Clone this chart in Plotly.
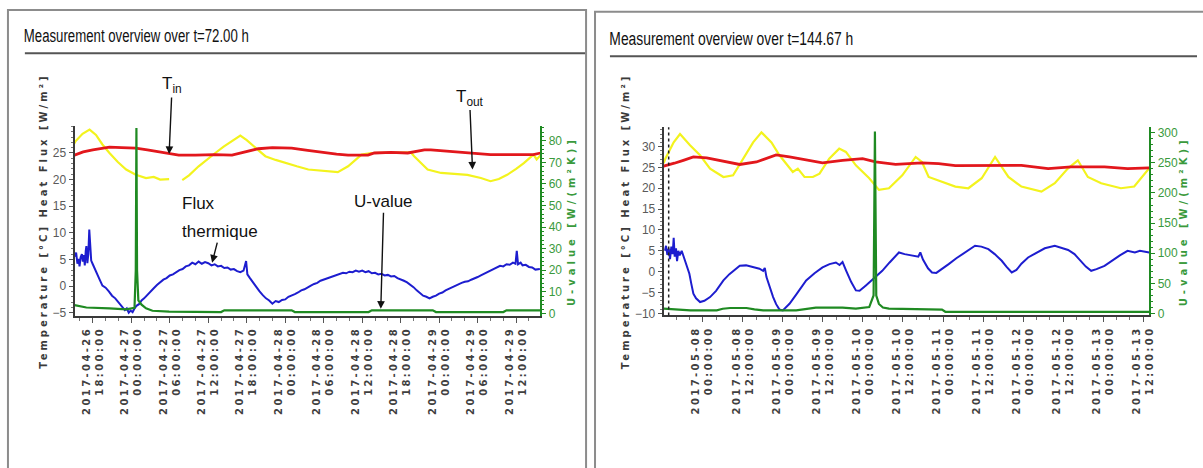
import plotly.graph_objects as go
import pandas as pd

# ---------------- LEFT PANEL DATA (hours since 2017-04-26 18:00) ----------------
L_BASE = "2017-04-26 18:00"
L_RANGE = ["2017-04-26 15:10", "2017-04-29 15:46"]
L_TITLE = "Measurement overview over t=72.00 h"

# (hour, value) pairs
l_tin = [(-2.85, 24.6), (-2.6, 24.7), (-1.5, 25.2), (0.0, 25.6), (1.5, 25.9), (2.6, 26.1),
         (4.5, 26.0), (6.7, 25.9), (8.5, 25.6), (10.5, 25.2), (11.9, 25.0), (13.4, 24.6),
         (16.0, 24.6), (19.0, 24.7), (21.7, 24.6), (23.0, 25.0), (24.5, 25.4), (25.8, 25.8),
         (28.0, 26.0), (31.0, 25.9), (33.5, 25.5), (36.2, 25.0), (38.0, 24.8), (39.8, 24.6),
         (42.9, 24.6), (43.9, 25.0), (46.5, 25.1), (49.1, 25.0), (50.5, 25.3), (51.7, 25.6),
         (52.7, 25.6), (55.5, 25.3), (58.4, 25.0), (62.0, 24.7), (65.0, 24.7), (68.7, 24.7),
         (69.8, 25.0)]

l_tout = [(-2.85, 26.8), (-2.7, 27.2), (-1.6, 28.6), (-0.5, 29.4), (0.5, 28.4), (1.5, 26.6),
          (2.6, 25.0), (3.9, 23.3), (5.2, 21.9), (6.7, 20.9), (8.3, 20.3), (9.5, 20.5),
          (10.5, 20.0), (11.9, 20.1), (12.6, None), (13.95, 19.9), (15.0, 20.8), (16.5, 22.5),
          (17.8, 23.8), (19.1, 25.0), (20.4, 26.2), (21.7, 27.2), (23.0, 28.25), (24.0, 27.4),
          (24.8, 26.6), (26.9, 24.4), (28.5, 23.7), (30.0, 23.1), (31.8, 22.5), (33.6, 21.9),
          (36.2, 21.6), (38.2, 21.4), (39.8, 22.5), (40.8, 23.6), (41.9, 24.7), (43.4, 25.0),
          (46.5, 25.1), (49.6, 25.1), (50.1, 24.4), (51.2, 23.0), (52.2, 21.9), (54.3, 21.25),
          (56.5, 21.1), (58.4, 20.9), (60.5, 20.3), (62.0, 19.7), (63.3, 20.1), (64.6, 20.9),
          (66.0, 22.0), (67.2, 23.1), (68.7, 24.7), (69.2, 23.8), (69.8, 24.6)]

l_flux = [(-2.8, 5.5), (-2.6, 6.3), (-2.4, 4.2), (-2.2, 5.1), (-2.07, 3.7), (-1.9, 5.4),
          (-1.7, 6.0), (-1.55, 4.6), (-1.4, 5.8), (-1.25, 3.9), (-1.1, 6.6), (-1.0, 7.5),
          (-0.85, 4.3), (-0.7, 6.0), (-0.55, 10.6), (-0.4, 6.5), (-0.25, 4.8), (0.0, 4.1),
          (0.5, 2.6), (1.0, 1.4), (1.5, 0.1), (2.0, -0.3), (2.5, -1.0), (3.0, -1.8),
          (3.5, -2.3), (4.0, -3.0), (4.5, -3.8), (5.0, -4.5), (5.3, -4.2), (5.6, -5.0),
          (5.9, -4.6), (6.2, -4.9), (6.5, -4.2), (6.8, -3.7), (7.2, -3.4), (7.6, -2.7),
          (8.0, -2.3), (8.5, -1.6), (9.0, -1.1), (9.5, -0.4), (10.0, 0.2), (10.5, 0.7),
          (11.0, 1.2), (11.5, 1.5), (12.0, 2.0), (12.5, 2.2), (13.0, 2.6), (13.5, 3.0),
          (14.0, 3.2), (14.5, 3.7), (15.0, 3.9), (15.5, 4.4), (16.0, 4.1), (16.5, 4.6),
          (17.0, 4.2), (17.5, 4.5), (18.0, 4.3), (18.5, 3.9), (19.0, 4.1), (19.5, 3.7),
          (20.0, 3.8), (20.5, 3.4), (21.0, 3.5), (21.5, 3.1), (22.0, 3.2), (22.5, 2.8),
          (23.0, 2.6), (23.5, 2.9), (23.9, 4.7), (24.1, 2.2), (24.5, 1.5), (25.0, 0.6),
          (25.5, -0.3), (26.0, -1.0), (26.5, -1.7), (27.0, -2.3), (27.5, -2.7), (28.0, -3.3),
          (28.5, -2.8), (29.0, -3.0), (29.5, -2.6), (30.0, -2.5), (30.5, -2.0), (31.0, -1.8),
          (31.5, -1.5), (32.0, -1.2), (32.5, -0.8), (33.0, -0.6), (33.5, -0.2), (34.0, 0.1),
          (34.5, 0.4), (35.0, 0.6), (35.5, 1.0), (36.0, 1.2), (36.5, 1.4), (37.0, 1.7),
          (37.5, 1.9), (38.0, 2.1), (38.5, 2.2), (39.0, 2.5), (39.5, 2.4), (40.0, 2.7),
          (40.5, 2.6), (41.0, 2.9), (41.5, 2.7), (42.0, 2.9), (42.5, 2.6), (43.0, 2.8),
          (43.5, 2.4), (44.0, 2.5), (44.5, 2.2), (45.0, 2.3), (45.5, 2.0), (46.0, 2.1),
          (46.5, 1.8), (47.0, 1.9), (47.5, 1.5), (48.0, 1.3), (48.5, 1.0), (49.0, 0.7),
          (49.5, 0.3), (50.0, -0.2), (50.5, -0.8), (51.0, -1.3), (51.5, -1.8), (52.0, -2.0),
          (52.5, -2.3), (53.0, -2.0), (53.5, -1.8), (54.0, -1.4), (54.5, -1.2), (55.0, -0.8),
          (55.5, -0.5), (56.0, -0.2), (56.5, 0.1), (57.0, 0.3), (57.5, 0.6), (58.0, 0.8),
          (58.5, 0.9), (59.0, 1.2), (59.5, 1.4), (60.0, 1.7), (60.5, 2.0), (61.0, 2.3),
          (61.5, 2.6), (62.0, 2.8), (62.5, 3.2), (63.0, 3.5), (63.5, 3.8), (64.0, 3.7),
          (64.5, 4.1), (65.0, 4.0), (65.5, 4.4), (65.9, 4.2), (66.1, 6.6), (66.3, 4.1),
          (66.7, 4.4), (67.0, 3.9), (67.5, 4.0), (68.0, 3.6), (68.5, 3.5), (69.0, 3.1),
          (69.7, 3.2)]

l_uval = [(-2.85, 3.8), (-1.0, 2.7), (2.6, 2.3), (5.2, 1.8), (6.5, 2.5), (6.7, 20.0),
          (6.8, 86.0), (6.9, 20.0), (7.1, 6.0), (7.6, 4.0), (8.3, 2.3), (9.3, 1.2),
          (11.9, 0.8), (20.0, 0.6), (20.5, 1.4), (31.0, 1.4), (31.5, 0.6), (43.0, 0.6),
          (43.5, 1.4), (53.0, 1.4), (53.5, 0.6), (64.0, 0.6), (64.5, 1.4), (69.8, 1.4)]

l_tickvals = ["2017-04-26 18:00", "2017-04-27 00:00", "2017-04-27 06:00", "2017-04-27 12:00",
              "2017-04-27 18:00", "2017-04-28 00:00", "2017-04-28 06:00", "2017-04-28 12:00",
              "2017-04-28 18:00", "2017-04-29 00:00", "2017-04-29 06:00", "2017-04-29 12:00"]
l_ticktext = ["2017-04-26<br>18:00:00", "2017-04-27<br>00:00:00", "2017-04-27<br>06:00:00",
              "2017-04-27<br>12:00:00", "2017-04-27<br>18:00:00", "2017-04-28<br>00:00:00",
              "2017-04-28<br>06:00:00", "2017-04-28<br>12:00:00", "2017-04-28<br>18:00:00",
              "2017-04-29<br>00:00:00", "2017-04-29<br>06:00:00", "2017-04-29<br>12:00:00"]
l_ytick = [-5, 0, 5, 10, 15, 20, 25]
l_u_tick = [0, 10, 20, 30, 40, 50, 60, 70, 80]

# ---------------- RIGHT PANEL DATA (hours since 2017-05-08 00:00) ----------------
R_BASE = "2017-05-08 00:00"
R_RANGE = ["2017-05-07 12:18", "2017-05-13 13:48"]
R_TITLE = "Measurement overview over t=144.67 h"

r_tin = [(-11.7, 25.3), (-10.7, 25.5), (-8.5, 26.0), (-5.8, 26.7), (-2.8, 27.5), (1.2, 27.3),
         (6.2, 26.5), (11.1, 25.7), (16.1, 26.3), (19.0, 27.2), (22.0, 28.0), (26.0, 27.5),
         (31.0, 26.7), (35.9, 26.1), (41.9, 26.7), (47.9, 27.1), (51.8, 26.3), (57.8, 25.7),
         (65.7, 26.1), (70.7, 25.9), (75.7, 25.4), (85.6, 25.5), (95.5, 25.5), (103.5, 24.7),
         (110.4, 25.1), (120.4, 25.1), (127.3, 24.7), (133.8, 24.9)]

r_tout = [(-11.7, 26.0), (-11.2, 27.1), (-8.7, 31.0), (-6.8, 33.0), (-3.8, 30.3), (-0.8, 27.9),
          (2.2, 24.7), (6.2, 22.7), (9.1, 23.1), (12.1, 27.1), (15.1, 31.0), (17.6, 33.4),
          (20.6, 31.0), (23.0, 27.9), (27.0, 23.9), (28.5, 24.7), (30.5, 22.7), (33.0, 22.7),
          (35.0, 23.5), (37.9, 27.1), (40.9, 29.5), (42.9, 28.7), (45.9, 25.5), (49.9, 22.4),
          (52.8, 19.6), (55.8, 20.0), (59.8, 23.1), (63.8, 27.5), (65.7, 26.3), (67.7, 22.7),
          (71.7, 21.6), (75.7, 20.4), (79.6, 20.0), (83.6, 22.4), (87.6, 27.5), (91.6, 22.7),
          (95.5, 20.4), (101.5, 19.2), (105.5, 21.2), (109.4, 24.7), (112.4, 26.7), (115.4, 22.7),
          (119.4, 21.2), (125.3, 20.0), (129.3, 20.4), (133.3, 24.3), (133.8, 24.8)]

r_flux = [(-11.3, 5.0), (-11.0, 6.2), (-10.6, 4.0), (-10.2, 5.5), (-9.8, 3.0), (-9.4, 6.0),
          (-9.0, 4.2), (-8.7, 8.1), (-8.4, 3.6), (-8.0, 5.6), (-7.7, 2.5), (-7.3, 5.0),
          (-6.9, 3.9), (-6.3, 5.0), (-5.8, 3.8), (-5.3, 2.6), (-4.8, 1.8), (-4.0, -0.5),
          (-3.4, -3.0), (-2.8, -5.3), (-2.0, -6.4), (-0.8, -7.3), (0.5, -7.0), (2.2, -6.1),
          (4.0, -4.6), (6.2, -2.1), (8.0, -0.6), (10.0, 0.8), (11.1, 1.4), (13.0, 1.5),
          (15.1, 1.0), (17.0, 0.7), (18.1, 0.2), (18.6, 0.9), (19.1, -1.3), (20.0, -3.5),
          (21.1, -6.1), (22.0, -7.8), (23.0, -9.1), (24.0, -9.3), (25.0, -8.5), (26.0, -7.7),
          (28.0, -5.5), (31.0, -2.1), (33.5, -0.4), (35.9, 1.0), (38.0, 1.8), (39.9, 2.2),
          (41.0, 1.6), (41.9, 2.3), (43.0, 0.2), (44.5, -2.5), (45.9, -4.5), (47.0, -4.6),
          (48.9, -3.3), (51.0, -1.7), (53.8, 0.2), (56.0, 2.2), (58.0, 4.1), (58.8, 4.6),
          (60.5, 4.2), (62.0, 4.0), (63.8, 3.8), (64.6, 3.6), (65.2, 4.6), (66.0, 2.9),
          (67.5, 0.8), (68.7, -0.2), (70.0, -0.3), (71.5, 0.5), (73.7, 1.8), (76.0, 3.2),
          (78.5, 4.6), (81.6, 6.2), (83.5, 6.0), (85.6, 5.4), (87.5, 4.2), (89.6, 2.6),
          (91.0, 1.2), (92.6, -0.2), (94.0, 0.4), (95.5, 1.9), (97.5, 3.4), (100.0, 4.6),
          (102.5, 5.6), (105.5, 6.2), (108.0, 5.6), (109.5, 5.2), (111.4, 4.2), (113.0, 2.8),
          (114.8, 1.2), (116.4, 0.2), (118.0, 0.6), (120.4, 1.4), (122.5, 2.6), (125.0, 3.9),
          (127.3, 5.0), (129.5, 4.6), (131.0, 5.0), (133.3, 4.6), (133.8, 4.6)]

r_uval = [(-11.7, 8.2), (-3.7, 5.5), (4.2, 5.5), (6.0, 8.0), (8.2, 9.3), (13.1, 9.3),
          (15.5, 7.0), (18.1, 5.5), (28.0, 5.5), (31.0, 8.0), (33.9, 9.8), (41.9, 9.8),
          (45.9, 8.2), (49.9, 10.9), (51.2, 30.0), (51.6, 302.0), (52.0, 30.0), (52.8, 16.0),
          (54.0, 10.0), (55.8, 8.2), (71.7, 6.5), (72.7, 3.0), (133.8, 3.0)]

r_tickvals = ["2017-05-08 00:00", "2017-05-08 12:00", "2017-05-09 00:00", "2017-05-09 12:00",
              "2017-05-10 00:00", "2017-05-10 12:00", "2017-05-11 00:00", "2017-05-11 12:00",
              "2017-05-12 00:00", "2017-05-12 12:00", "2017-05-13 00:00", "2017-05-13 12:00"]
r_ticktext = ["2017-05-08<br>00:00:00", "2017-05-08<br>12:00:00", "2017-05-09<br>00:00:00",
              "2017-05-09<br>12:00:00", "2017-05-10<br>00:00:00", "2017-05-10<br>12:00:00",
              "2017-05-11<br>00:00:00", "2017-05-11<br>12:00:00", "2017-05-12<br>00:00:00",
              "2017-05-12<br>12:00:00", "2017-05-13<br>00:00:00", "2017-05-13<br>12:00:00"]
r_ytick = [-10, -5, 0, 5, 10, 15, 20, 25, 30]
r_u_tick = [0, 50, 100, 150, 200, 250, 300]

Y_TITLE = "Temperature [°C] Heat Flux [W/m²]"
U_TITLE = "U-value [W/(m²K)]"

# ---------------- styling ----------------
RED = "#e2171c"
YELLOW = "#f3f31e"
BLUE = "#1d1dcf"
GREEN = "#1f8a22"
GREEN_TXT = "#3a9a3c"
AX = "#3a3a3a"
W, H = 1203, 468


def series(base, pairs):
    b = pd.Timestamp(base)
    xs = [b + pd.Timedelta(hours=h) for h, _ in pairs]
    ys = [v for _, v in pairs]
    return xs, ys


def px(x):
    return x / W


def py(y):
    return 1 - y / H


fig = go.Figure()

for base, tin, tout, flux, uval, xa, ya, ua in [
    (L_BASE, l_tin, l_tout, l_flux, l_uval, "x", "y", "y2"),
    (R_BASE, r_tin, r_tout, r_flux, r_uval, "x2", "y3", "y4"),
]:
    for pairs, col, wdt, name, yax in [
        (tout, YELLOW, 2.2, "T out", ya),
        (tin, RED, 2.8, "T in", ya),
        (flux, BLUE, 2.0, "Heat flux", ya),
        (uval, GREEN, 2.2, "U-value", ua),
    ]:
        xs, ys = series(base, pairs)
        fig.add_trace(go.Scatter(x=xs, y=ys, mode="lines", name=name,
                                 line=dict(color=col, width=wdt),
                                 xaxis=xa, yaxis=yax, showlegend=False,
                                 connectgaps=False))

xtickfont = dict(family="DejaVu Sans", size=10, color="#404040", weight="bold")
ytickfont = dict(family="Liberation Sans", size=12, color="#5a5a5a")
utickfont = dict(family="Liberation Sans", size=12, color=GREEN_TXT)
ytitlefont = dict(family="DejaVu Sans", size=10, color="#3a3a3a", weight="bold")
utitlefont = dict(family="DejaVu Sans", size=10, color=GREEN_TXT, weight="bold")


def xaxis_cfg(domain, anchor, rng, tv, tt, base, minor_h):
    return dict(domain=domain, anchor=anchor, type="date", range=rng,
                tickmode="array", tickvals=tv, ticktext=tt, tickangle=-90,
                tickfont=xtickfont, ticks="outside", ticklen=5, tickwidth=1,
                tickcolor="#555", showline=True, linecolor=AX, linewidth=2,
                showgrid=False, zeroline=False,
                minor=dict(ticks="outside", ticklen=3, tickcolor="#777",
                           dtick=minor_h * 3600000, tick0=base, showgrid=False))


def yaxis_cfg(domain, anchor, rng, tv, minor):
    return dict(domain=domain, anchor=anchor, range=rng, tickmode="array",
                tickvals=tv, tickfont=ytickfont, ticks="outside", ticklen=4,
                tickcolor="#555", showline=True, linecolor=AX, linewidth=2,
                showgrid=False, zeroline=False,
                title=dict(text=Y_TITLE, font=ytitlefont, standoff=3),
                minor=dict(ticks="outside", ticklen=2, tickcolor="#777",
                           dtick=minor, showgrid=False))


def uaxis_cfg(overlay, anchor, rng, tv, minor, standoff):
    return dict(overlaying=overlay, anchor=anchor, side="right", range=rng,
                tickmode="array", tickvals=tv, tickfont=utickfont, ticks="outside",
                ticklen=4, tickcolor=GREEN, showline=True, linecolor=GREEN,
                linewidth=2, showgrid=False, zeroline=False,
                title=dict(text=U_TITLE, font=utitlefont, standoff=standoff),
                minor=dict(ticks="outside", ticklen=2, tickcolor=GREEN,
                           dtick=minor, showgrid=False))


fig.update_layout(
    width=W, height=H, margin=dict(l=0, r=0, t=0, b=0),
    paper_bgcolor="white", plot_bgcolor="white", showlegend=False,
    xaxis=xaxis_cfg([px(75), px(543)], "y", L_RANGE, l_tickvals, l_ticktext, L_BASE, 2),
    yaxis=yaxis_cfg([py(319), py(127)], "x", [-5.6, 30.0], l_ytick, 1),
    yaxis2=uaxis_cfg("y", "x", [-1.2, 86.7], l_u_tick, 2, 7),
    xaxis2=xaxis_cfg([px(667), px(1155)], "y3", R_RANGE, r_tickvals, r_ticktext, R_BASE, 4),
    yaxis3=yaxis_cfg([py(318.5), py(128)], "x2", [-10.5, 34.6], r_ytick, 1),
    yaxis4=uaxis_cfg("y3", "x2", [-3.0, 308.7], r_u_tick, 10, 1),
)

# frames and title separators
shapes = [
    dict(type="rect", xref="paper", yref="paper", x0=px(8), x1=px(589), y0=py(475), y1=py(9),
         line=dict(color="#8c8c8c", width=2), fillcolor="rgba(0,0,0,0)", layer="below"),
    dict(type="rect", xref="paper", yref="paper", x0=px(598), x1=px(1215), y0=py(475), y1=py(11),
         line=dict(color="#8c8c8c", width=2), fillcolor="rgba(0,0,0,0)", layer="below"),
    dict(type="line", xref="paper", yref="paper", x0=px(25), x1=px(588), y0=py(53), y1=py(53),
         line=dict(color="#555", width=2)),
    dict(type="line", xref="paper", yref="paper", x0=px(613), x1=px(1203), y0=py(56), y1=py(56),
         line=dict(color="#555", width=2)),
    dict(type="line", xref="x2", yref="y3 domain",
         x0=pd.Timestamp(R_BASE) + pd.Timedelta(hours=-10.2),
         x1=pd.Timestamp(R_BASE) + pd.Timedelta(hours=-10.2), y0=0, y1=1,
         line=dict(color="#222", width=1.5, dash="dot")),
]
fig.update_layout(shapes=shapes)

TITLE_FONT = dict(family="Liberation Sans", size=18, color="#111")
LBL_FONT = dict(family="Liberation Sans", size=17, color="#111")
lb = pd.Timestamp(L_BASE)


def t_l(h):
    return lb + pd.Timedelta(hours=h)


ARROW = dict(showarrow=True, arrowhead=2, arrowsize=1.1, arrowwidth=1.4,
             arrowcolor="#111", standoff=0, font=LBL_FONT)

annotations = [
    dict(text=L_TITLE, xref="paper", yref="paper", x=px(137.5), y=py(35), xanchor="center",
         yanchor="middle", showarrow=False, font=TITLE_FONT),
    dict(text=R_TITLE, xref="paper", yref="paper", x=px(735), y=py(38), xanchor="center",
         yanchor="middle", showarrow=False, font=TITLE_FONT),
    dict(text="Flux", xref="paper", yref="paper", x=px(181), y=py(205), xanchor="left",
         showarrow=False, font=LBL_FONT),
    # labels with arrows (arrow tips in data coordinates)
    dict(text="T<sub>in</sub>", x=t_l(11.9), y=24.8, xref="x", yref="y", ax=3, ay=-69, **ARROW),
    dict(text="T<sub>out</sub>", x=t_l(59.2), y=21.9, xref="x", yref="y", ax=-3, ay=-72, **ARROW),
    dict(text="thermique", x=t_l(18.6), y=4.4, xref="x", yref="y", ax=8, ay=-31, **ARROW),
    dict(text="U-value", x=t_l(44.9), y=2.1, xref="x", yref="y2", ax=3, ay=-107, **ARROW),
]
fig.update_layout(annotations=annotations)

post = """
document.body.style.margin = '0';
document.documentElement.style.overflow = 'hidden';
var gd = document.getElementById('{plot_id}');
function sp(sel, v){ gd.querySelectorAll(sel).forEach(function(t){ t.style.letterSpacing = v; }); }
sp('g.xtick text, g.x2tick text', '2.4px');
sp('text.ytitle, text.y3title', '3px');
sp('text.y2title, text.y4title', '4px');
gd.querySelectorAll('text.annotation-text').forEach(function(t){
  var s = t.textContent || '';
  if (s.indexOf('Measurement') === 0) {
    t.setAttribute('lengthAdjust', 'spacingAndGlyphs');
    t.setAttribute('textLength', s.indexOf('144') > 0 ? '244' : '225');
  }
});
"""

fig.write_html("out.html", post_script=post,
               config={"responsive": False, "displayModeBar": False})
